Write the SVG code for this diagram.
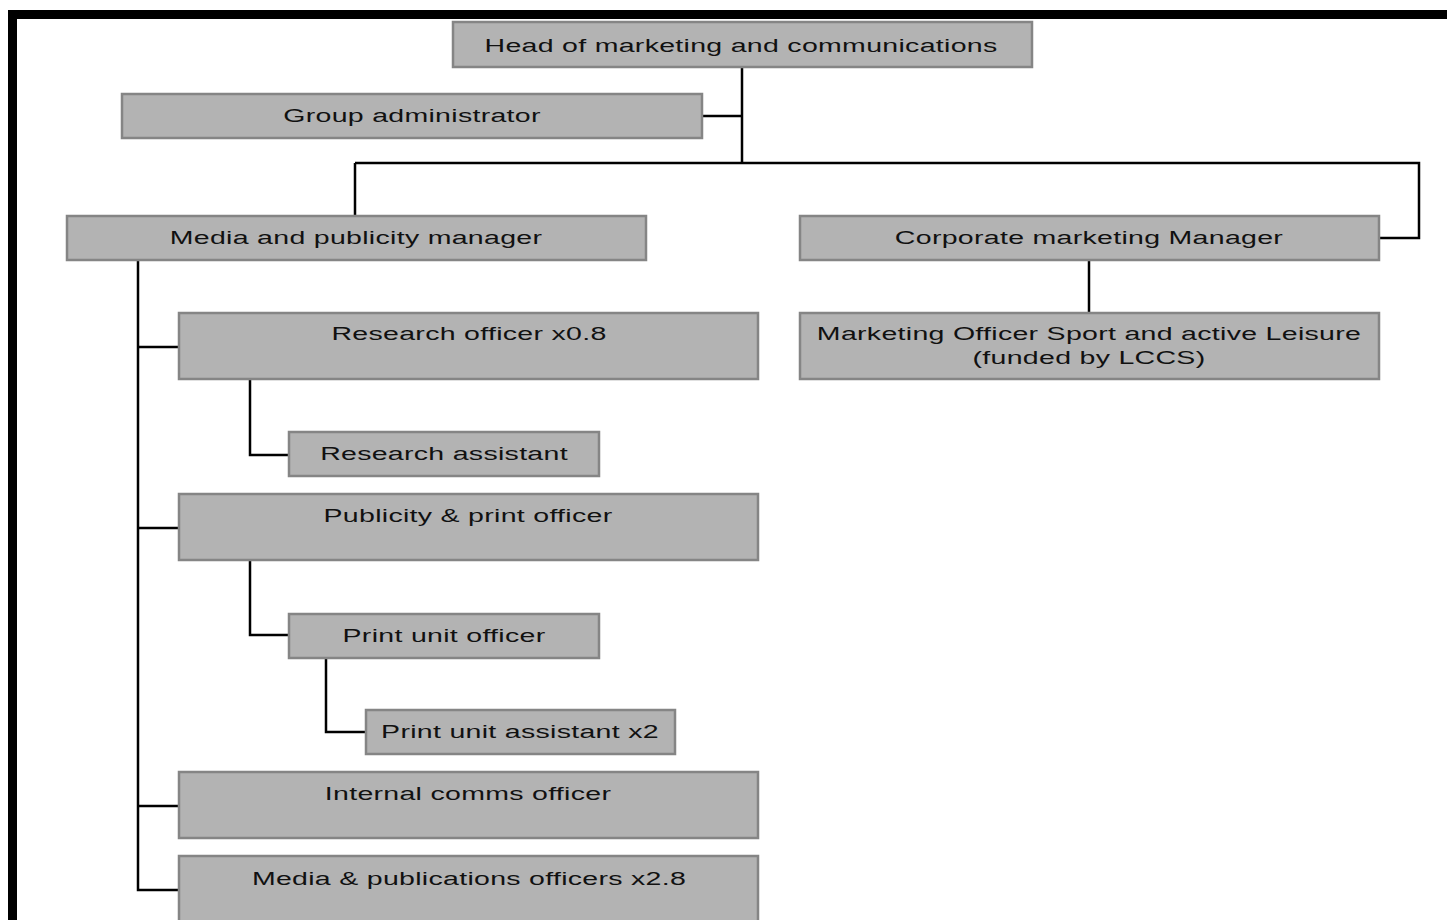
<svg xmlns="http://www.w3.org/2000/svg" width="1447" height="920" viewBox="0 0 1447 920">
<style>
.box{fill:#b3b3b3;stroke:#858585;stroke-width:2.5}
.lbl{font-family:"Liberation Sans",Arial,sans-serif;font-size:19px;fill:#111;text-anchor:middle;letter-spacing:0.2px}
.ln{fill:none;stroke:#000;stroke-width:2.5}
</style>
<rect x="0" y="0" width="1447" height="920" fill="#fff"/>
<g id="frame">
<rect x="8" y="10" width="1439" height="9" fill="#000"/>
<rect x="8" y="10" width="9" height="910" fill="#000"/>
</g>
<g id="connectors">
<path class="ln" d="M742 67V163M702 116H742M355 163H1419V238H1379M355 163V216"/>
<path class="ln" d="M1089 260V313"/>
<path class="ln" d="M138 260V890H179M138 347H179M138 528H179M138 806H179"/>
<path class="ln" d="M250 379V455H289M250 560V635H289M326 658V732H366"/>
</g>
<g id="head"><rect class="box" x="453" y="22" width="579" height="45"/><text class="lbl" transform="translate(741,51.5) scale(1.5,1)">Head of marketing and communications</text></g>
<g id="groupadmin"><rect class="box" x="122" y="94" width="580" height="44"/><text class="lbl" transform="translate(412,122) scale(1.5,1)">Group administrator</text></g>
<g id="mediamgr"><rect class="box" x="67" y="216" width="579" height="44"/><text class="lbl" transform="translate(356,244) scale(1.5,1)">Media and publicity manager</text></g>
<g id="corpmgr"><rect class="box" x="800" y="216" width="579" height="44"/><text class="lbl" transform="translate(1089,244) scale(1.5,1)">Corporate marketing Manager</text></g>
<g id="mktofficer"><rect class="box" x="800" y="313" width="579" height="66"/><text class="lbl" transform="translate(1089,340) scale(1.5,1)">Marketing Officer Sport and active Leisure</text><text class="lbl" transform="translate(1089,364) scale(1.5,1)">(funded by LCCS)</text></g>
<g id="research"><rect class="box" x="179" y="313" width="579" height="66"/><text class="lbl" transform="translate(469,340) scale(1.5,1)">Research officer x0.8</text></g>
<g id="researchasst"><rect class="box" x="289" y="432" width="310" height="44"/><text class="lbl" transform="translate(444,460) scale(1.5,1)">Research assistant</text></g>
<g id="publicity"><rect class="box" x="179" y="494" width="579" height="66"/><text class="lbl" transform="translate(468,522) scale(1.5,1)">Publicity &amp; print officer</text></g>
<g id="printunit"><rect class="box" x="289" y="614" width="310" height="44"/><text class="lbl" transform="translate(444,642) scale(1.5,1)">Print unit officer</text></g>
<g id="printasst"><rect class="box" x="366" y="710" width="309" height="44"/><text class="lbl" transform="translate(520,738) scale(1.5,1)">Print unit assistant x2</text></g>
<g id="internal"><rect class="box" x="179" y="772" width="579" height="66"/><text class="lbl" transform="translate(468,800) scale(1.5,1)">Internal comms officer</text></g>
<g id="mediapub"><rect class="box" x="179" y="856" width="579" height="80"/><text class="lbl" transform="translate(469,885) scale(1.5,1)">Media &amp; publications officers x2.8</text></g>
</svg>
